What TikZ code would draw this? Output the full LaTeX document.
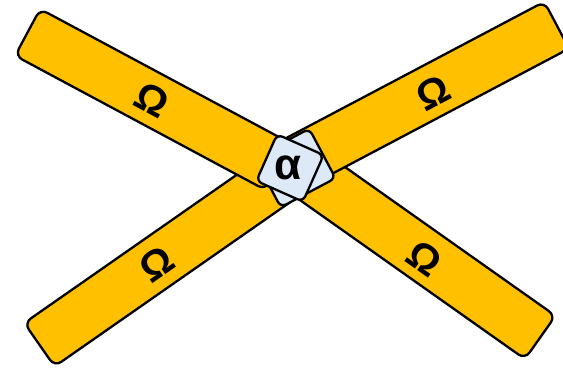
\documentclass[tikz,border=0pt]{standalone}
\usepackage{fontspec}
\setmainfont{Liberation Sans}
\definecolor{gold}{RGB}{255,192,0}
\definecolor{lblue}{RGB}{221,233,246}
\begin{document}
\begin{tikzpicture}[x=1pt,y=-1pt,
  bar/.style={rectangle, draw=black, line width=2.3pt, fill=gold, rounded corners=8pt, minimum height=53pt, inner sep=0pt},
  sq/.style={rectangle, draw=black, line width=2.3pt, fill=lblue, rounded corners=6pt, inner sep=0pt},
  lbl/.style={font=\bfseries\fontsize{40}{40}\selectfont, inner sep=0pt}]
\useasboundingbox (0,0) rectangle (563,372);
% bars (back to front)
\node[bar, minimum width=303pt, rotate=-35.25] (br) at (416.5,250) {};
\node[bar, minimum width=299pt, rotate=27.85] (tr) at (424.5,95) {};
\node[bar, minimum width=305pt, rotate=34.9] (bl) at (164.5,257.5) {};
% rear centre square
\node[sq, minimum width=62pt, minimum height=56pt, rotate=28] (back) at (295,168) {};
\node[bar, minimum width=284pt, rotate=-28.2] (tl) at (152.75,99.45) {};
% labels
\node[lbl, rotate=-28.2] (otl) at (152,100) {Ω};
\node[lbl, rotate=27.85] (otr) at (433,93) {Ω};
\node[lbl, rotate=34.9] (obl) at (157,264) {Ω};
\node[lbl, rotate=-35.25] (obr) at (425,258) {Ω};
% front centre square
\node[sq, minimum width=51pt, minimum height=51pt, rotate=-24] (front) at (290,168) {};
\node[font=\bfseries\fontsize{44}{44}\selectfont, inner sep=0pt] (alpha) at (288,168) {α};
\end{tikzpicture}
\end{document}
